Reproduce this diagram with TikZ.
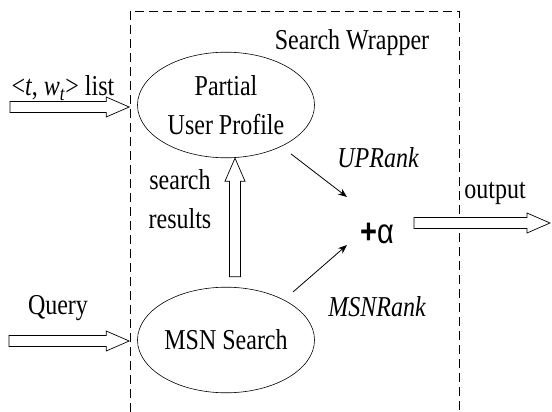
\documentclass[tikz,border=0pt]{standalone}
\usepackage{fontspec}
\setmainfont{Liberation Serif}
\newfontfamily\alphafont{Liberation Sans}
\usetikzlibrary{shapes, calc, positioning, arrows.meta}

\tikzset{
  txt/.style={font=\fontsize{24}{33}\selectfont, yscale=1.2, inner sep=0pt, align=center},
  rank/.style={txt, font=\fontsize{24}{33}\selectfont\itshape},
  blob/.style={ellipse, draw, line width=0.6pt, minimum width=177pt, minimum height=88pt, txt},
  thinarrow/.style={-{Stealth[length=9pt,width=7pt]}, line width=0.8pt},
  fatarrow/.style={draw, line width=0.7pt, fill=white, line join=miter},
  wrapper/.style={dash pattern=on 9pt off 5pt, line width=0.8pt}
}

%// hollow arrow: #1 tail, #2 tip
\newcommand{\hollowarrow}[2]{%
  \coordinate (fa-h) at ($(#2)!23pt!(#1)$);
  \draw[fatarrow] ($(#1)!5.5pt!90:(#2)$) -- ($(fa-h)!5.5pt!90:(#2)$) -- ($(fa-h)!10pt!90:(#2)$)
    -- (#2) -- ($(fa-h)!10pt!-90:(#2)$) -- ($(fa-h)!5.5pt!-90:(#2)$) -- ($(#1)!5.5pt!-90:(#2)$) -- cycle;
}

\begin{document}
\begin{tikzpicture}[x=1pt, y=-1pt]

\useasboundingbox (0,0) rectangle (552,412);

%// the wrapper frame, open at the bottom
\draw[wrapper] (130,412) -- (130,11) -- (459,11) -- (459,412);
\node[txt] (wrapname) at (352,43) {Search Wrapper};

%// the two boxes
\node[blob] (profile) at (226,105) {Partial\\User Profile};
\node[blob] (msn) at (226,340) {MSN Search};

\node[txt, font=\alphafont\fontsize{29}{33}\selectfont] (alpha) at (377,233) {\textbf{+}α};

%// labels
\node[txt] (listlbl) at (63,88) {\textless\textit{t}, \textit{w}\textsubscript{\textit{t}}\textgreater{} list};
\node[txt] (querylbl) at (58,308) {Query};
\node[txt] (reslbl) at (180,199) {search\\results};
\node[rank] (uprank) at (378,158) {UPRank};
\node[rank] (msnrank) at (377,307) {MSNRank};
\node[txt] (outlbl) at (495,193) {output};

%// free ends
\coordinate (listin) at (10,107);
\coordinate (queryin) at (9,341);
\coordinate (out) at (550,223);

\hollowarrow{listin}{$(profile.west)+(-8,2)$}
\hollowarrow{queryin}{$(msn.west)+(-8,1)$}
\hollowarrow{$(msn.north)+(9,-10)$}{$(profile.south)+(9,0)$}
\hollowarrow{$(alpha.east)+(20,-10)$}{out}

\draw[thinarrow, shorten <=12pt] (profile.-32) -- ($(alpha.center)+(-30,-36)$);
\draw[thinarrow, shorten <=12pt] (msn.30) -- ($(alpha.center)+(-30,12)$);

\end{tikzpicture}
\end{document}
